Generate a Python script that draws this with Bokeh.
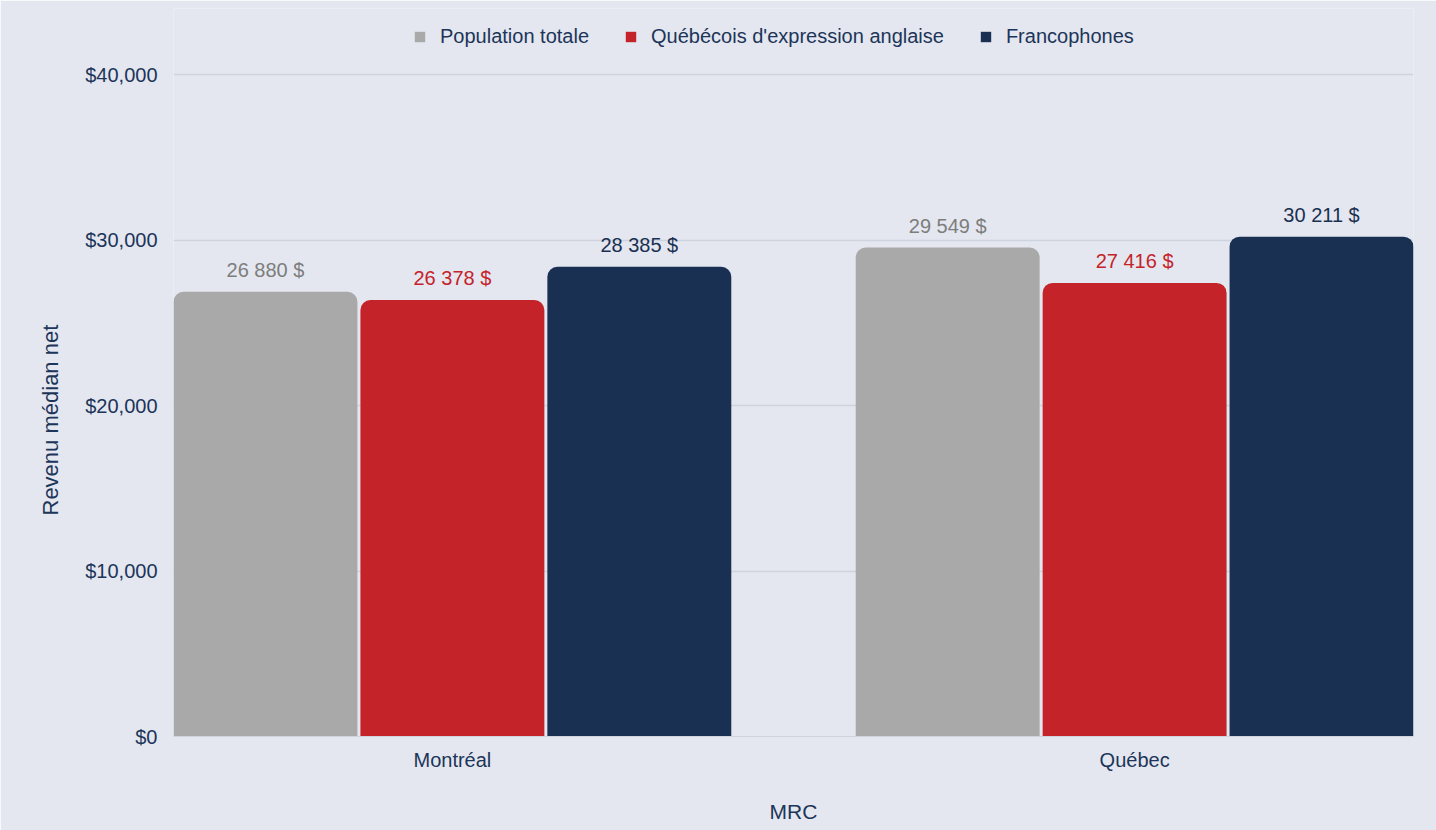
from bokeh.plotting import figure
from bokeh.models import ColumnDataSource, FactorRange, NumeralTickFormatter, FixedTicker, Legend, LegendItem, Range1d, Title
from bokeh.transform import dodge
from bokeh.core.properties import value
from bokeh.embed import file_html
from bokeh.resources import INLINE

categories = ["Montréal", "Québec"]
series_names = ["Population totale", "Québécois d'expression anglaise", "Francophones"]
population_totale = [26880, 29549]
anglophones = [26378, 27416]
francophones = [28385, 30211]
y_ticks = [0, 10000, 20000, 30000, 40000]

colors = ["#a9a9a9", "#c4232a", "#1a3052"]
label_colors = ["#7d7d7d", "#c4232a", "#1a3052"]
BG = "#e4e7ef"
TXT = "#1c3559"
FONT = "Liberation Sans"


def fmt(v):
    return f"{v:,}".replace(",", " ") + " $"


src = ColumnDataSource(dict(
    mrc=categories,
    pop=population_totale,
    ang=anglophones,
    fra=francophones,
    pop_l=[fmt(v) for v in population_totale],
    ang_l=[fmt(v) for v in anglophones],
    fra_l=[fmt(v) for v in francophones],
))

x_range = FactorRange(*categories, factor_padding=0, range_padding=-0.0912,
                      range_padding_units="absolute")

# the frame extends above the top grid line so that the legend can sit there
p = figure(x_range=x_range, y_range=Range1d(0, 44000), width=1436, height=830,
           output_backend="svg", toolbar_location=None,
           min_border_left=173, min_border_right=23, min_border_top=8, min_border_bottom=94)
p.background_fill_color = BG
p.border_fill_color = BG
p.outline_line_color = None

offsets = [-0.274, 0.0, 0.274]
cols = ["pop", "ang", "fra"]
lcols = ["pop_l", "ang_l", "fra_l"]
items = []
for i in range(3):
    r = p.vbar(x=dodge("mrc", offsets[i], range=p.x_range), top=cols[i], width=0.2696,
               source=src, fill_color=colors[i], line_color=None, border_radius=(10, 10, 0, 0))
    p.text(x=dodge("mrc", offsets[i], range=p.x_range), y=cols[i], text=lcols[i], source=src,
           text_align="center", text_baseline="bottom", y_offset=-11,
           text_color=label_colors[i], text_font=value(FONT), text_font_size="20px")
    items.append(LegendItem(label=series_names[i], renderers=[r]))

legend = Legend(items=items, orientation="horizontal", location=(240, 688),
                background_fill_alpha=0, border_line_color=None, padding=0, margin=0,
                glyph_width=13, glyph_height=13, label_standoff=14, spacing=35,
                label_text_font=FONT, label_text_font_size="20px", label_text_color=TXT,
                label_height=20)
p.add_layout(legend, "center")

# Y axis
p.yaxis.ticker = FixedTicker(ticks=y_ticks)
p.yaxis.formatter = NumeralTickFormatter(format="$0,0")
p.yaxis.axis_line_color = None
p.yaxis.major_tick_line_color = None
p.yaxis.minor_tick_line_color = None
p.yaxis.major_label_standoff = 10

# y axis title, centred on the gridded area (0 .. 40,000) rather than on the full frame
p.add_layout(Title(text="Revenu médian net", align="left", offset=221, standoff=39,
                   text_font=FONT, text_font_size="22px", text_font_style="normal",
                   text_color=TXT), "left")

# X axis
p.xaxis.axis_label = "MRC"
p.xaxis.axis_line_color = "#cdd3df"
p.xaxis.major_tick_line_color = None
p.xaxis.minor_tick_line_color = None
p.xaxis.major_label_standoff = 6
p.xaxis.axis_label_standoff = 26

for ax in (p.xaxis, p.yaxis):
    ax.major_label_text_font = FONT
    ax.major_label_text_font_size = "20px"
    ax.major_label_text_color = TXT
    ax.axis_label_text_font = FONT
    ax.axis_label_text_font_size = "21px"
    ax.axis_label_text_font_style = "normal"
    ax.axis_label_text_color = TXT

p.xgrid.grid_line_color = None
p.ygrid.grid_line_color = "#cdd3df"
p.ygrid.grid_line_width = 1.5

open("out.html", "w").write(file_html(p, INLINE))
